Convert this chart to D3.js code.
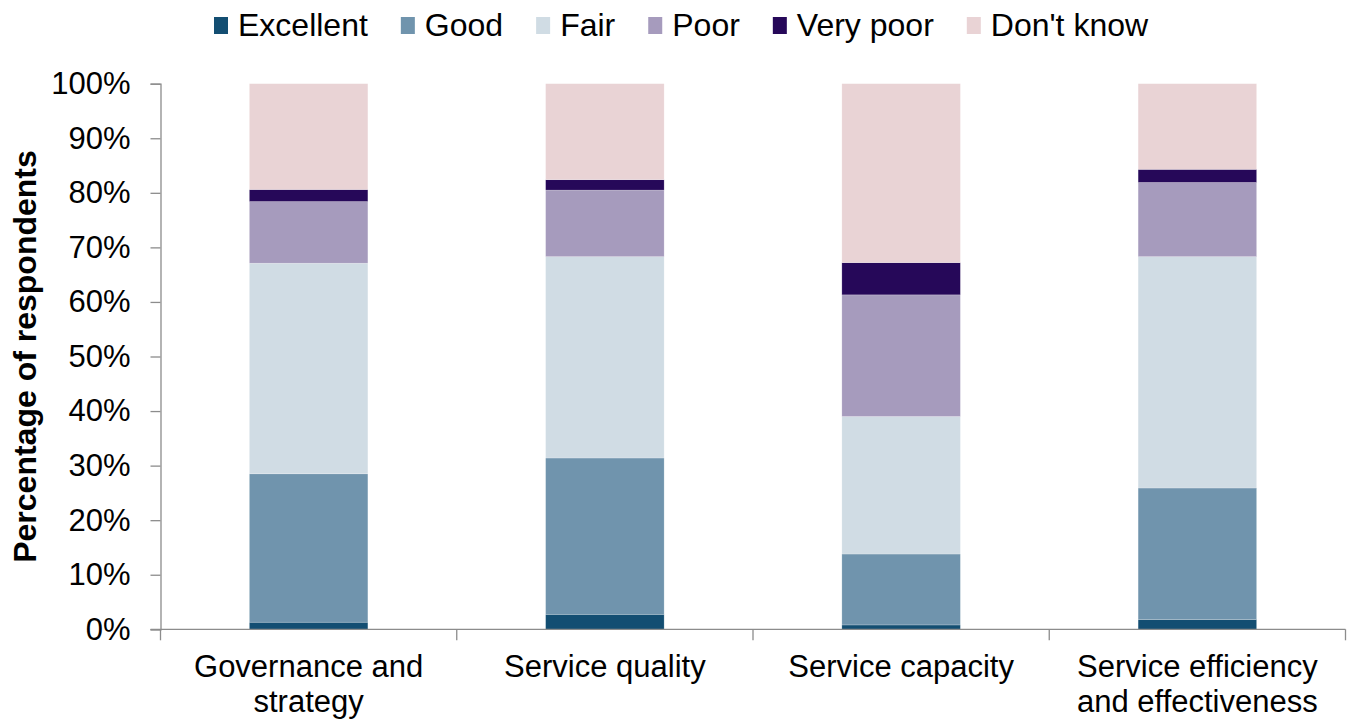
<!DOCTYPE html>
<html>
<head>
<meta charset="utf-8">
<script src="https://cdn.jsdelivr.net/npm/d3@7"></script>
<style>
  html, body { margin: 0; padding: 0; background: #fff; }
  svg { display: block; font-family: "Liberation Sans", Arial, sans-serif; }
</style>
</head>
<body>
<svg id="chart" width="1349" height="722"></svg>
<script>
const categories = [["Governance and", "strategy"], ["Service quality"], ["Service capacity"], ["Service efficiency", "and effectiveness"]];
const seriesNames = ["Excellent", "Good", "Fair", "Poor", "Very poor", "Don't know"];
const excellent = [1.3, 2.75, 0.8, 1.8];
const good      = [27.2, 28.65, 13.0, 24.1];
const fair      = [38.6, 36.9, 25.2, 42.4];
const poor      = [11.3, 12.2, 22.3, 13.6];
const veryPoor  = [2.2, 1.9, 5.9, 2.4];
const dontKnow  = [19.4, 17.6, 32.8, 15.7];
const yTicks = [0, 10, 20, 30, 40, 50, 60, 70, 80, 90, 100];
const colors = ["#134e72", "#7094ad", "#d0dce4", "#a69bbd", "#260859", "#e9d3d5"];

const seriesValues = [excellent, good, fair, poor, veryPoor, dontKnow];
const rows = categories.map((c, i) => {
  const r = { key: c.join(" ") };
  seriesNames.forEach((s, j) => r[s] = seriesValues[j][i]);
  return r;
});

const svg = d3.select("#chart");
const margin = { left: 160.5, right: 1345.5, top: 83.7, bottom: 629.3 };

const x = d3.scaleBand()
  .domain(rows.map(r => r.key))
  .range([margin.left, margin.right])
  .paddingInner(0.6)
  .paddingOuter(0.3);

const y = d3.scaleLinear().domain([0, 100]).range([margin.bottom, margin.top]);

const stacked = d3.stack().keys(seriesNames)(rows);

// bars
svg.append("g").selectAll("g")
  .data(stacked)
  .join("g")
  .attr("fill", (d, i) => colors[i])
  .selectAll("rect")
  .data(d => d)
  .join("rect")
  .attr("x", d => x(d.data.key))
  .attr("width", x.bandwidth())
  .attr("y", d => y(d[1]))
  .attr("height", d => y(d[0]) - y(d[1]))
  .attr("stroke", "rgba(255,255,255,0.35)")
  .attr("stroke-width", 0.6);

// y axis
const yAxis = svg.append("g")
  .attr("transform", `translate(${margin.left},0)`)
  .call(d3.axisLeft(y).tickValues(yTicks).tickSize(10).tickPadding(20).tickFormat(d => d + "%"));
yAxis.select(".domain").attr("stroke", "#8c8c8c").attr("stroke-width", 1.3);
yAxis.selectAll(".tick line").attr("stroke", "#8c8c8c").attr("stroke-width", 1.3);
yAxis.selectAll(".tick text")
  .attr("font-size", 31)
  .attr("fill", "#000")
  .attr("font-family", "Liberation Sans, Arial, sans-serif");

// x axis
const xAxisG = svg.append("g").attr("transform", `translate(0,${margin.bottom})`);
xAxisG.append("line")
  .attr("x1", margin.left - 10).attr("x2", margin.right)
  .attr("y1", 0).attr("y2", 0)
  .attr("stroke", "#8c8c8c").attr("stroke-width", 1.3);
const boundaries = [margin.left].concat(rows.map(r => x(r.key) + x.bandwidth() / 2 + x.step() / 2));
xAxisG.selectAll("line.tk")
  .data(boundaries)
  .join("line")
  .attr("class", "tk")
  .attr("x1", d => d).attr("x2", d => d)
  .attr("y1", 0).attr("y2", 11)
  .attr("stroke", "#8c8c8c").attr("stroke-width", 1.3);

const labels = xAxisG.selectAll("text.cat")
  .data(categories)
  .join("text")
  .attr("class", "cat")
  .attr("text-anchor", "middle")
  .attr("font-size", 31)
  .attr("fill", "#000")
  .attr("x", (d, i) => x(rows[i].key) + x.bandwidth() / 2)
  .attr("y", 48);
labels.selectAll("tspan")
  .data(d => d)
  .join("tspan")
  .attr("x", function () { return d3.select(this.parentNode).attr("x"); })
  .attr("dy", (d, i) => i === 0 ? 0 : 35)
  .text(d => d);

// y axis title
svg.append("text")
  .attr("transform", `translate(36,${(margin.top + margin.bottom) / 2}) rotate(-90)`)
  .attr("text-anchor", "middle")
  .attr("font-size", 32)
  .attr("font-weight", "bold")
  .attr("fill", "#000")
  .text("Percentage of respondents");

// legend
const legend = svg.append("g");
let lx = 214;
const ly = 25;
seriesNames.forEach((s, i) => {
  legend.append("rect")
    .attr("x", lx).attr("y", ly - 8)
    .attr("width", 14).attr("height", 17)
    .attr("fill", colors[i]);
  const t = legend.append("text")
    .attr("x", lx + 24).attr("y", ly + 11)
    .attr("font-size", 32)
    .attr("fill", "#000")
    .text(s);
  const w = t.node().getComputedTextLength();
  lx = lx + 24 + w + 33;
});
</script>
</body>
</html>
